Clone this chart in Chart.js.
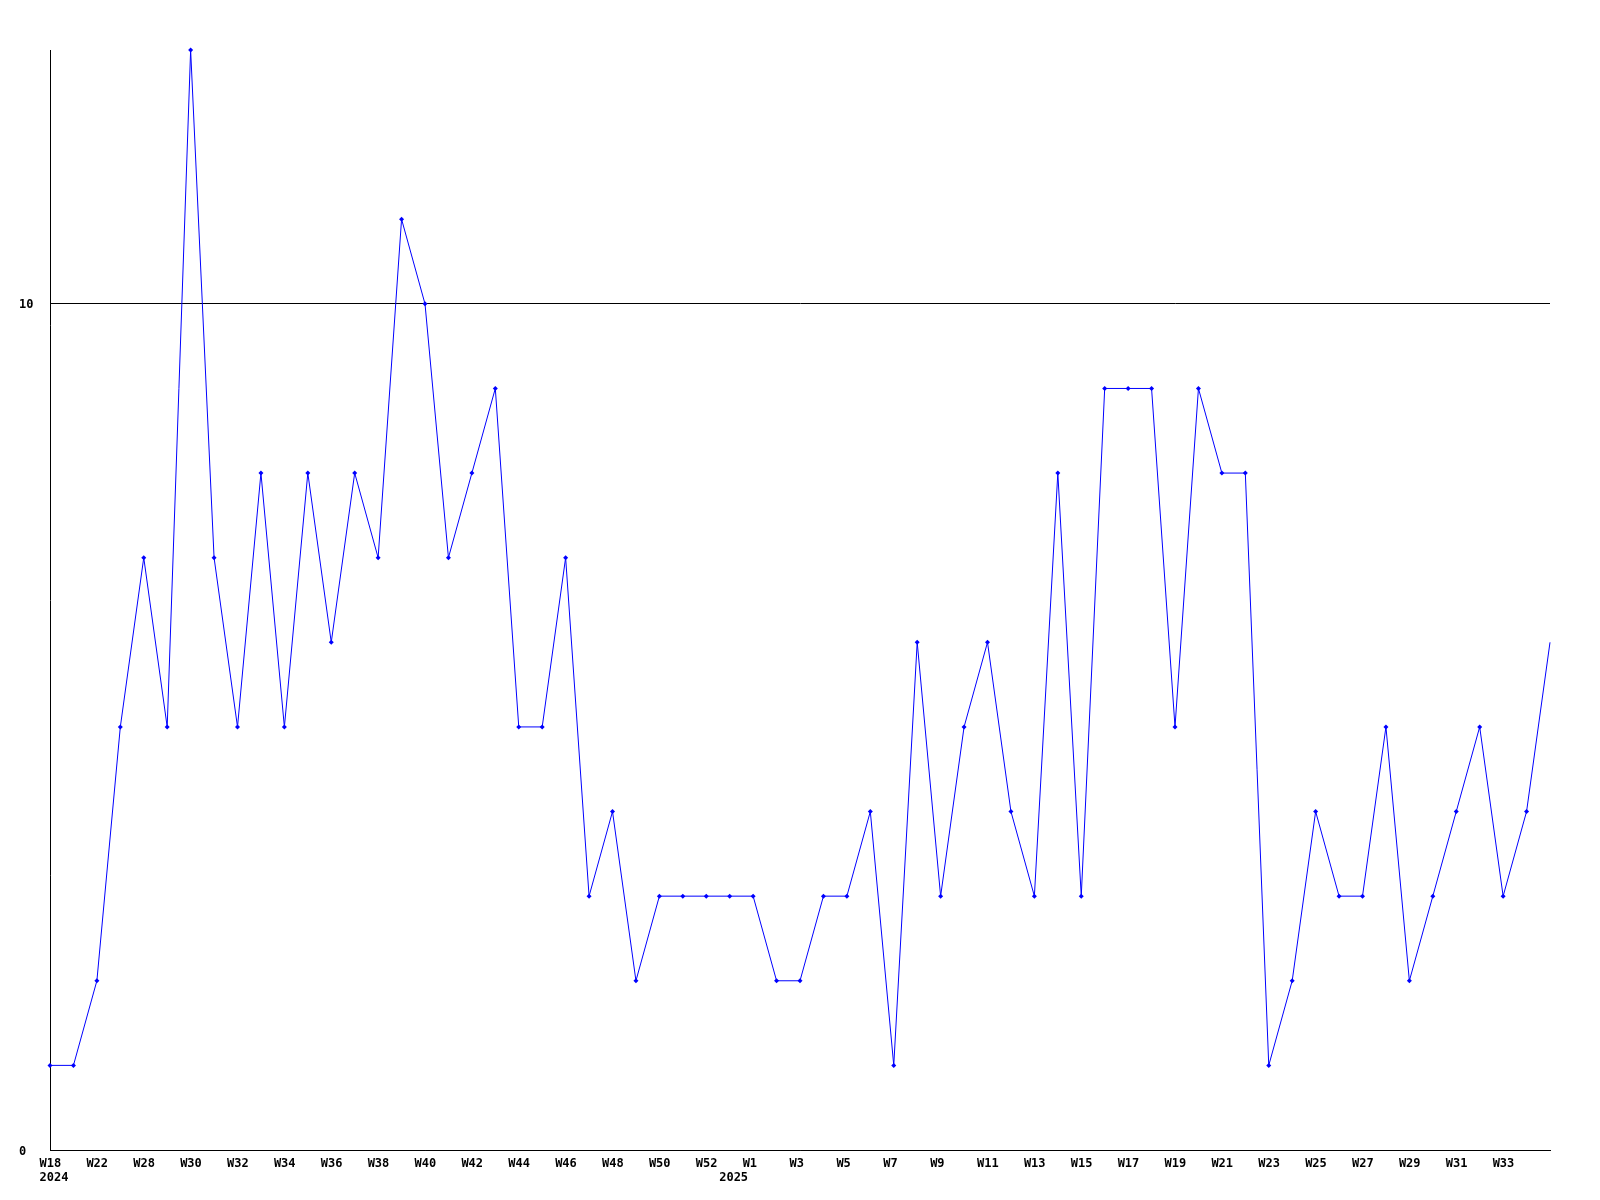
<!DOCTYPE html>
<html>
<head>
<meta charset="utf-8">
<script src="https://cdn.jsdelivr.net/npm/chart.js@4/dist/chart.umd.min.js"></script>
<style>
  html, body { margin: 0; padding: 0; background: #fff; }
  #wrap { width: 1600px; height: 1200px; }
</style>
</head>
<body>
<div id="wrap"><canvas id="chart" width="1600" height="1200"></canvas></div>
<script>
// week labels (only every other one is shown on the axis)
const weeks = [
  'W18', 'W20', 'W22', 'W25', 'W28', 'W29', 'W30', 'W31', 'W32', 'W33',
  'W34', 'W35', 'W36', 'W37', 'W38', 'W39', 'W40', 'W41', 'W42', 'W43',
  'W44', 'W45', 'W46', 'W47', 'W48', 'W49', 'W50', 'W51', 'W52', 'W0',
  'W1', 'W2', 'W3', 'W4', 'W5', 'W6', 'W7', 'W8', 'W9', 'W10',
  'W11', 'W12', 'W13', 'W14', 'W15', 'W16', 'W17', 'W18', 'W19', 'W20',
  'W21', 'W22', 'W23', 'W24', 'W25', 'W26', 'W27', 'W28', 'W29', 'W30',
  'W31', 'W32', 'W33', 'W34', 'W35'
];
// year label shown under the first week of each year
const years = [];
years[0] = '2024';
years[29] = '2025';

const counts = [
  1, 1, 2, 5, 7, 5, 13, 7, 5, 8,
  5, 8, 6, 8, 7, 11, 10, 7, 8, 9,
  5, 5, 7, 3, 4, 2, 3, 3, 3, 3,
  3, 2, 2, 3, 3, 4, 1, 6, 3, 5,
  6, 4, 3, 8, 3, 9, 9, 9, 5, 9,
  8, 8, 1, 2, 4, 3, 3, 5, 2, 3,
  4, 5, 3, 4, 6
];

const yTicks = [0, 10];
const yMax = 13;

const axisFont = { family: '"DejaVu Sans Mono", monospace', size: 12, weight: 'bold', lineHeight: 14 / 12 };
const last = counts.length - 1;

new Chart(document.getElementById('chart'), {
  type: 'line',
  data: {
    labels: weeks,
    datasets: [{
      data: counts,
      borderColor: '#0000ff',
      backgroundColor: '#0000ff',
      borderWidth: 1,
      tension: 0,
      fill: false,
      clip: false,
      pointStyle: 'rectRot',
      pointRadius: ctx => ctx.dataIndex === last ? 0 : 2.5,
      pointBorderWidth: 0,
      pointHoverRadius: 2.5
    }]
  },
  options: {
    responsive: false,
    animation: false,
    layout: { padding: { left: 19, top: 50, right: 50, bottom: 0 } },
    plugins: {
      legend: { display: false },
      tooltip: { enabled: false }
    },
    scales: {
      x: {
        grid: { display: false, drawTicks: false },
        border: { display: true, color: '#000', width: 1 },
        afterFit: scale => { scale.height = 50; },
        ticks: {
          autoSkip: false,
          maxRotation: 0,
          minRotation: 0,
          align: 'start',
          labelOffset: -10.5,
          padding: 7,
          color: '#000',
          font: axisFont,
          // the last week sits on the right edge and has no label
          callback: (value, i) => [i % 2 === 0 && i !== last ? weeks[i] : '', years[i] || '']
        }
      },
      y: {
        min: 0,
        max: yMax,
        grid: { color: '#000', lineWidth: 1, drawTicks: false },
        border: { display: true, color: '#000', width: 1 },
        afterBuildTicks: scale => { scale.ticks = yTicks.map(v => ({ value: v })); },
        afterFit: scale => { scale.width = 31; },
        ticks: {
          crossAlign: 'far',
          padding: 0,
          labelOffset: 1.5,
          color: '#000',
          font: axisFont
        }
      }
    }
  }
});
</script>
</body>
</html>
